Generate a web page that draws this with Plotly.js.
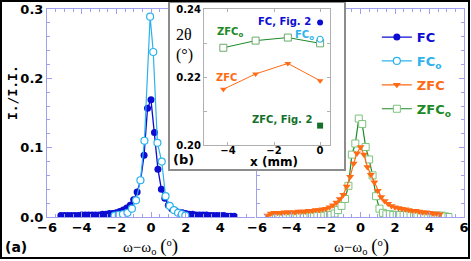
<!DOCTYPE html>
<html><head><meta charset="utf-8">
<script src="https://cdn.plot.ly/plotly-3.0.1.min.js"></script>
<style>
body{margin:0;padding:0;background:#fff;}
#wrap{position:relative;width:471px;height:261px;overflow:hidden;}
#main{position:absolute;left:0;top:0;width:471px;height:261px;}
#insetbox{position:absolute;left:168px;top:1px;width:178px;height:170px;box-sizing:border-box;border:2px solid #8c8c8c;background:#fff;}
#inset{position:absolute;left:170px;top:3px;width:174px;height:168px;}
#frame{position:absolute;left:0;top:0;width:470px;height:259px;box-sizing:border-box;border:2px solid #000;pointer-events:none;}
</style></head><body>
<div id="wrap"><div id="main"></div><div id="insetbox"></div><div id="inset"></div><div id="frame"></div></div>
<script>
// ---- panel (a), left: FC and FC_o ----
const fcX = [-5.2,-5.0,-4.8,-4.6,-4.4,-4.2,-4.0,-3.8,-3.6,-3.4,-3.2,-3.0,-2.8,-2.6,-2.4,-2.2,-2.0,-1.8,-1.6,-1.4,-1.2,-1.0,-0.8,-0.6,-0.4,-0.2,0.0,0.2,0.4,0.6,0.8,1.0,1.2,1.4,1.6,1.8,2.0,2.2,2.4,2.6,2.8,3.0,3.2,3.4,3.6,3.8,4.0,4.2,4.4,4.6,4.8];
const fcY = [0.002,0.002,0.002,0.002,0.002,0.002,0.003,0.003,0.003,0.003,0.003,0.003,0.004,0.004,0.005,0.005,0.006,0.008,0.010,0.013,0.017,0.025,0.036,0.053,0.089,0.157,0.169,0.122,0.069,0.040,0.027,0.017,0.012,0.009,0.007,0.006,0.005,0.004,0.004,0.003,0.003,0.003,0.003,0.002,0.002,0.002,0.002,0.002,0.001,0.001,0.001];
const fcoX = [-2.1,-1.86,-1.62,-1.36,-1.1,-0.86,-0.61,-0.38,-0.05,0.13,0.37,0.62,0.84,1.08,1.32,1.56,1.78,1.98];
const fcoY = [0.002,0.003,0.004,0.006,0.012,0.024,0.053,0.110,0.289,0.238,0.107,0.080,0.030,0.016,0.010,0.006,0.004,0.002];
// ---- panel (a), right: ZFC and ZFC_o ----
const zfcX = [-5.4,-5.2,-5.0,-4.8,-4.6,-4.4,-4.2,-4.0,-3.8,-3.6,-3.4,-3.2,-3.0,-2.8,-2.6,-2.4,-2.2,-2.0,-1.8,-1.6,-1.4,-1.2,-1.0,-0.8,-0.6,-0.4,-0.2,0.0,0.2,0.4,0.6,0.8,1.0,1.2,1.4,1.6,1.8,2.0,2.2,2.4,2.6,2.8,3.0,3.2,3.4,3.6,3.8,4.0,4.2,4.4,4.6];
const zfcY = [0.002,0.005,0.006,0.006,0.006,0.007,0.007,0.007,0.007,0.008,0.008,0.008,0.009,0.009,0.010,0.010,0.011,0.012,0.014,0.017,0.021,0.026,0.032,0.044,0.058,0.077,0.092,0.101,0.090,0.072,0.061,0.050,0.038,0.029,0.023,0.019,0.016,0.014,0.013,0.012,0.011,0.010,0.009,0.009,0.008,0.007,0.007,0.006,0.005,0.005,0.004];
const zfcoX = [-5.1,-4.9,-4.7,-4.5,-4.3,-4.1,-3.9,-3.7,-3.5,-3.3,-3.1,-2.9,-2.7,-2.5,-2.3,-2.1,-1.9,-1.7,-1.5,-1.3,-1.1,-0.9,-0.7,-0.5,-0.3,-0.1,0.1,0.3,0.5,0.7,0.9,1.1,1.3,1.5,1.7,1.9,2.1,2.3,2.5,2.7,2.9,3.1,3.3,3.5,3.7,3.9,4.1,4.3,4.5,4.7,4.9,5.1];
const zfcoY = [0.001,0.001,0.001,0.001,0.001,0.001,0.001,0.001,0.001,0.001,0.001,0.001,0.001,0.002,0.002,0.002,0.003,0.003,0.005,0.010,0.016,0.026,0.045,0.090,0.106,0.142,0.134,0.101,0.083,0.060,0.030,0.012,0.006,0.004,0.004,0.003,0.003,0.003,0.003,0.003,0.003,0.003,0.003,0.002,0.002,0.002,0.002,0.002,0.002,0.002,0.001,0.000];
const mainXTicks = [-6,-4,-2,0,2,4];
const rightXTicks = [-6,-4,-2,0,2,4,6];
// ---- inset (b) ----
const inX = [-4.2,-2.8,-1.4,0];
const inZfcoY = [0.2286,0.2307,0.2316,0.2299];
const inZfcY = [0.2164,0.2209,0.2240,0.2189];
const fig2X = [0];
const fcFig2Y = [0.2360];
const fcoInY = [0.2311];
const zfcFig2Y = [0.2057];
const inXTicks = [-4,-2,0];
const inYTicks = [0.20,0.22,0.24];

const C_FC='#0c0cd2', C_FCO='#2db3ec', C_ZFC='#ff6a14', C_ZFCO='#1c8a26';
const axCol='#a0a0ee';
const bold = (s,sz,c)=>({family:'DejaVu Sans',size:sz,color:c||'#000',weight:'bold'});
const ann = (o)=>Object.assign({xref:'paper',yref:'paper',showarrow:false,xanchor:'center',yanchor:'middle'},o);

const traces = [
 {x:fcX,y:fcY,xaxis:'x',yaxis:'y',mode:'lines+markers',name:'<span style="color:'+C_FC+'">FC</span>',legendgroup:'a',legendrank:1,
  line:{color:C_FC,width:1.3},marker:{symbol:'circle',size:7,color:C_FC}},
 {x:fcoX,y:fcoY,xaxis:'x',yaxis:'y',mode:'lines+markers',name:'<span style="color:'+C_FCO+'">FC<sub>o</sub></span>',legendgroup:'b',legendrank:2,
  line:{color:C_FCO,width:1.2},marker:{symbol:'circle',size:7,color:'#fff',line:{color:C_FCO,width:1.2}}},
 {x:zfcoX,y:zfcoY,xaxis:'x2',yaxis:'y2',mode:'lines+markers',name:'<span style="color:'+C_ZFCO+'">ZFC<sub>o</sub></span>',legendgroup:'d',legendrank:4,
  line:{color:C_ZFCO,width:1.2},marker:{symbol:'square',size:7,color:'#fff',line:{color:'#7cc47c',width:1}}},
 {x:zfcX,y:zfcY,xaxis:'x2',yaxis:'y2',mode:'lines+markers',name:'<span style="color:'+C_ZFC+'">ZFC</span>',legendgroup:'c',legendrank:3,
  line:{color:C_ZFC,width:1.2},marker:{symbol:'triangle-down',size:7,color:C_ZFC}}
];

const axBase = {ticks:'inside',ticklen:5,tickcolor:axCol,showline:true,linecolor:axCol,linewidth:1,showgrid:false,zeroline:false,tickfont:bold('',13)};
const xTitle = 'ω−ω<sub>o</sub> <span style="font-size:19px">(</span><sup>o</sup><span style="font-size:19px">)</span>';
const layout = {
 width:471,height:261,margin:{l:47,r:7,t:9,b:44},paper_bgcolor:'#fff',plot_bgcolor:'#fff',
 xaxis:Object.assign({},axBase,{domain:[0,0.4988],range:[-6,6],tickvals:mainXTicks,mirror:'ticks',ticklabelstandoff:-2,minor:{dtick:0.5,tick0:0,ticks:'inside',ticklen:3,tickcolor:axCol}}),
 yaxis:Object.assign({},axBase,{domain:[0,1],range:[0,0.3],dtick:0.1,tick0:0,tickformat:'.1f',minor:{dtick:0.02,tick0:0,ticks:'inside',ticklen:3,tickcolor:axCol}}),
 xaxis2:Object.assign({},axBase,{domain:[0.5036,1],anchor:'y2',range:[-6,6],tickvals:rightXTicks,mirror:'ticks',ticklabelstandoff:-2,minor:{dtick:0.5,tick0:0,ticks:'inside',ticklen:3,tickcolor:axCol}}),
 yaxis2:Object.assign({},axBase,{domain:[0,1],anchor:'x2',range:[0,0.3],dtick:0.1,tick0:0,showticklabels:false,mirror:'ticks',minor:{dtick:0.02,tick0:0,ticks:'inside',ticklen:3,tickcolor:axCol}}),
 showlegend:true,
 legend:{x:0.791,y:0.937,xanchor:'left',yanchor:'top',bgcolor:'rgba(0,0,0,0)',font:bold('',13),traceorder:'grouped',tracegroupgap:4},
 annotations:[
  ann({text:'<b>I./I.I.</b>',x:-0.0839,y:0.596,textangle:-90,font:{family:'DejaVu Sans Mono',size:13,color:'#000'}}),
  ann({text:xTitle,x:0.2494,y:-0.139,font:{family:'Liberation Serif',size:15,color:'#000'}}),
  ann({text:xTitle,x:0.753,y:-0.139,font:{family:'Liberation Serif',size:15,color:'#000'}}),
  ann({text:'(a)',x:-0.0743,y:-0.144,font:bold('',14)})
 ]
};
Plotly.newPlot('main',traces,layout,{staticPlot:true});

const inTraces = [
 {x:inX,y:inZfcoY,mode:'lines+markers',line:{color:C_ZFCO,width:1},marker:{symbol:'square',size:7,color:'#fff',line:{color:'#6aaa6a',width:1}}},
 {x:inX,y:inZfcY,mode:'lines+markers',line:{color:C_ZFC,width:1},marker:{symbol:'triangle-down',size:6,color:C_ZFC}},
 {x:fig2X,y:fcFig2Y,mode:'markers',marker:{symbol:'circle',size:6,color:C_FC}},
 {x:fig2X,y:fcoInY,mode:'markers',marker:{symbol:'circle',size:6,color:'#fff',line:{color:C_FCO,width:1.2}}},
 {x:fig2X,y:zfcFig2Y,mode:'markers',marker:{symbol:'square',size:6,color:'#14702a'}}
];
const inAx = {ticks:'inside',ticklen:3,tickcolor:'#b0b0b0',showline:true,linecolor:'#b0b0b0',linewidth:1,mirror:'ticks',showgrid:false,zeroline:false,tickfont:bold('',10)};
const inLayout = {
 width:174,height:168,margin:{l:34,r:14,t:6,b:26},paper_bgcolor:'rgba(0,0,0,0)',plot_bgcolor:'#fff',showlegend:false,
 xaxis:Object.assign({},inAx,{range:[-5.04,0.43],tickvals:inXTicks,ticklabelstandoff:-4}),
 yaxis:Object.assign({},inAx,{range:[0.2,0.24],tickvals:inYTicks,tickformat:'.2f',minor:{dtick:0.01,tick0:0.2,ticks:'inside',ticklen:3,tickcolor:'#b0b0b0'}}),
 annotations:[
  ann({text:'2θ',x:-0.159,y:0.8125,font:{family:'Liberation Serif',size:16,color:'#000'}}),
  ann({text:'(°)',x:-0.151,y:0.662,font:{family:'Liberation Serif',size:16,color:'#000'}}),
  ann({text:'ZFC<sub>o</sub>',x:0.087,y:0.824,xanchor:'left',font:bold('',10,C_ZFCO)}),
  ann({text:'FC, Fig. 2',x:0.865,y:0.905,xanchor:'right',font:bold('',10,C_FC)}),
  ann({text:'FC<sub>o</sub>',x:0.706,y:0.805,xanchor:'left',font:bold('',10,C_FCO)}),
  ann({text:'ZFC',x:0.079,y:0.493,xanchor:'left',font:bold('',10,C_ZFC)}),
  ann({text:'ZFC, Fig. 2',x:0.873,y:0.191,xanchor:'right',font:bold('',10,'#14702a')}),
  ann({text:'(b)',x:-0.159,y:-0.110,font:bold('',13)}),
  ann({text:'x (mm)',x:0.556,y:-0.125,font:bold('',12)})
 ]
};
Plotly.newPlot('inset',inTraces,inLayout,{staticPlot:true});
</script>
</body></html>
